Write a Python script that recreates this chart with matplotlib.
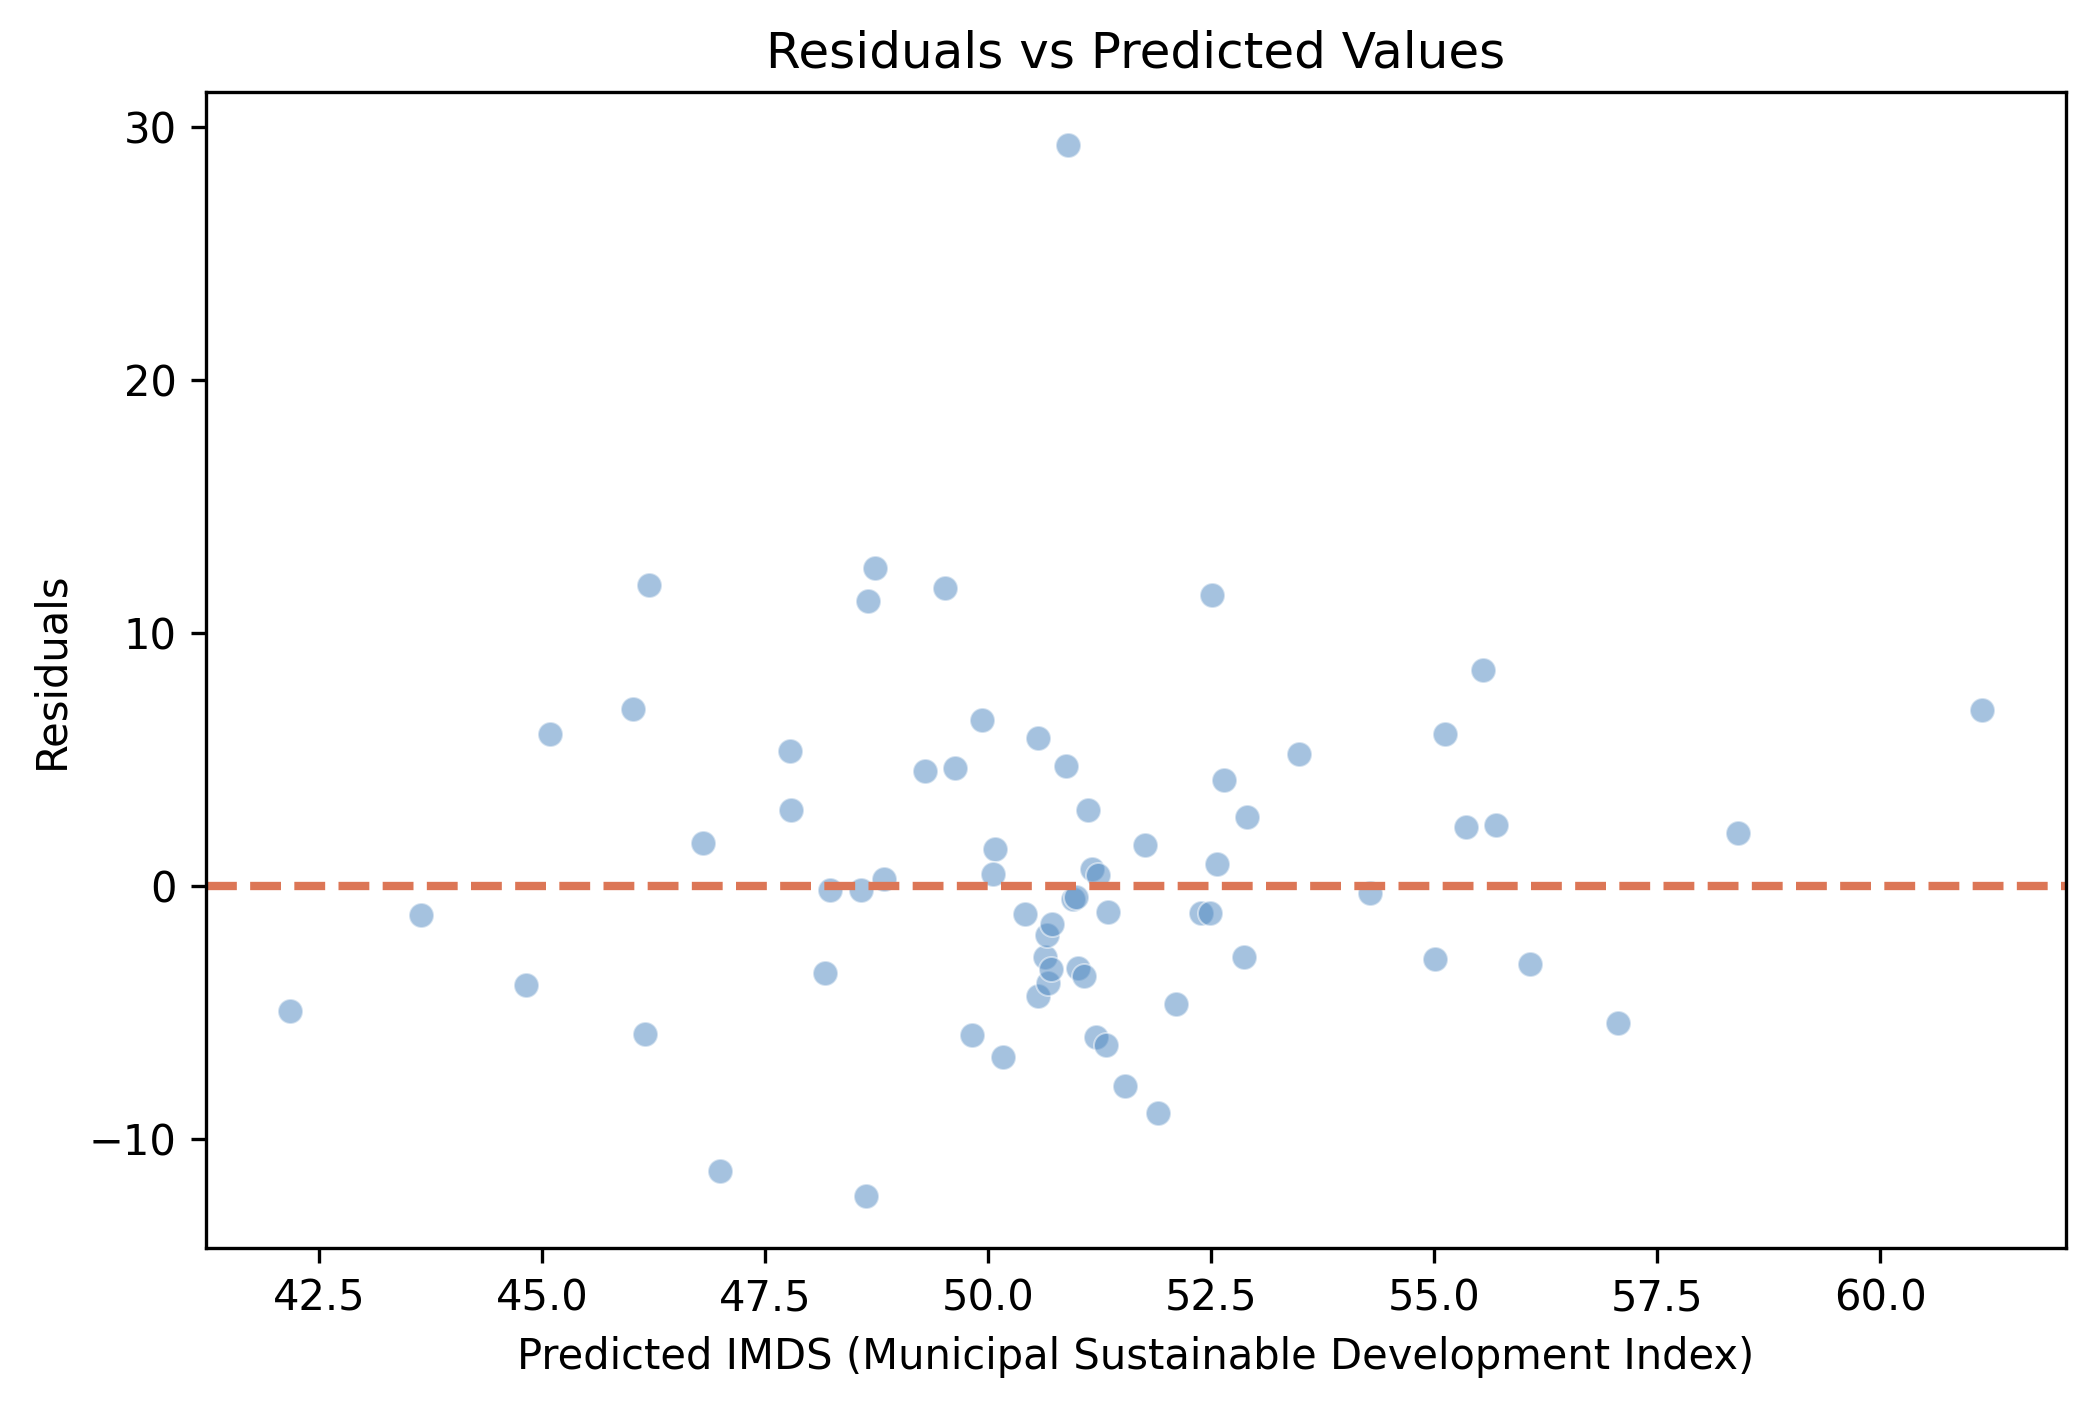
import numpy as np
import matplotlib
matplotlib.use("Agg")
import matplotlib.pyplot as plt

# predicted IMDS and residuals
predicted = [42.17, 43.64, 44.82, 45.09, 46.02, 46.19, 46.15, 46.80, 46.99, 47.78,
             47.79, 48.17, 48.23, 48.57, 48.65, 48.73, 48.63, 48.83, 49.29, 49.52,
             49.63, 49.82, 49.93, 50.08, 50.05, 50.16, 50.41, 50.56, 50.56, 50.64,
             50.66, 50.67, 50.70, 50.72, 50.87, 50.89, 50.95, 50.98, 51.01, 51.07,
             51.12, 51.16, 51.23, 51.21, 51.32, 51.34, 51.53, 51.76, 51.90, 52.10,
             52.39, 52.49, 52.51, 52.57, 52.64, 52.90, 52.87, 53.48, 54.28, 55.01,
             55.12, 55.36, 55.55, 55.69, 56.07, 57.06, 58.41, 61.14]
residuals = [-4.95, -1.16, -3.93, 6.00, 6.99, 11.90, -5.84, 1.69, -11.29, 5.33,
             2.98, -3.45, -0.15, -0.18, 11.27, 12.57, -12.25, 0.28, 4.54, 11.78,
             4.66, -5.90, 6.55, 1.44, 0.47, -6.76, -1.12, 5.83, -4.37, -2.82,
             -1.96, -3.86, -3.30, -1.51, 4.72, 29.31, -0.51, -0.46, -3.23, -3.57,
             2.99, 0.68, 0.41, -5.98, -6.30, -1.05, -7.90, 1.63, -9.00, -4.69,
             -1.09, -1.09, 11.50, 0.86, 4.17, 2.71, -2.80, 5.21, -0.28, -2.91,
             6.00, 2.31, 8.53, 2.39, -3.07, -5.44, 2.08, 6.94]

fig = plt.figure(figsize=(2095 / 300, 1407 / 300), dpi=300)
ax = fig.add_axes([0.0983, 0.1130, 0.8879, 0.8216])

ax.scatter(predicted, residuals, s=36, color="#4d87c1", alpha=0.5,
           edgecolor="white", linewidth=0.48)
ax.axhline(0, color="#dc7656", linestyle="--", linewidth=2)

ax.set_xlim(41.227, 62.086)
ax.set_ylim(-14.32, 31.39)
ax.set_xticks(np.arange(42.5, 61, 2.5))
ax.set_yticks([-10, 0, 10, 20, 30])

ax.set_title("Residuals vs Predicted Values")
ax.set_xlabel("Predicted IMDS (Municipal Sustainable Development Index)")
ax.set_ylabel("Residuals")

fig.savefig("out.png", dpi=300)
